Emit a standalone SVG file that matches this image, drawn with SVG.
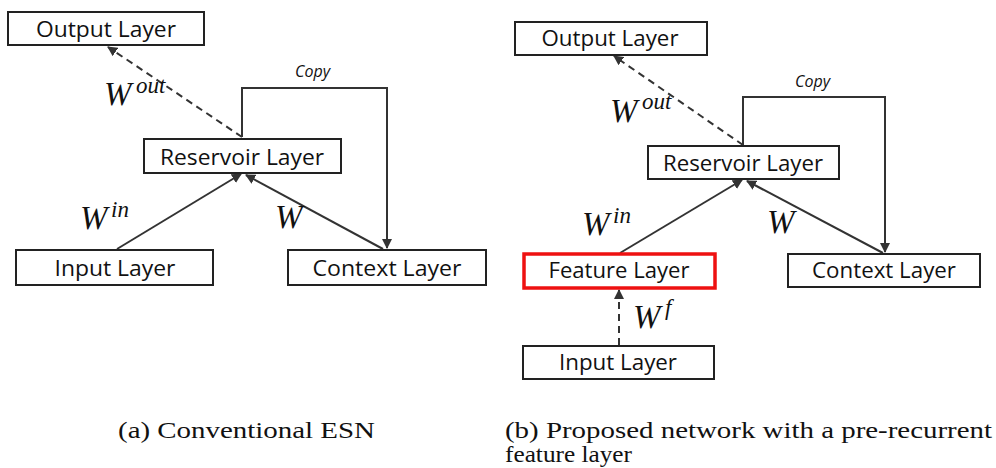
<svg xmlns="http://www.w3.org/2000/svg" width="996" height="468" viewBox="0 0 996 468">
  <style>
    .box { fill: #ffffff; stroke: #222222; stroke-width: 2; }
    .feat { fill: #ffffff; stroke: #ee1111; stroke-width: 3.5; }
    .lbl { font-family: "Open Sans", "Liberation Sans", sans-serif; font-size: 22px; fill: #111111; text-anchor: middle; }
    .edge { fill: none; stroke: #333333; stroke-width: 2; }
    .dash { stroke-dasharray: 7 5; }
    .w { font-family: "Liberation Serif", serif; font-style: italic; font-size: 33px; fill: #111111; }
    .sup { font-family: "Liberation Serif", serif; font-style: italic; font-size: 23px; fill: #111111; }
    .copy { font-family: "Open Sans", "Liberation Sans", sans-serif; font-style: italic; font-size: 16px; fill: #111111; }
    .cap { font-family: "Liberation Serif", serif; font-size: 24px; fill: #111111; }
  </style>
  <defs>
    <marker id="arr" viewBox="0 0 10 10" refX="9" refY="5" markerWidth="5" markerHeight="5" orient="auto" markerUnits="strokeWidth">
      <path d="M0,0 L10,5 L0,10 z" fill="#333333"/>
    </marker>
  </defs>
  <rect width="996" height="468" fill="#ffffff"/>

  <!-- (a) conventional ESN -->
  <g id="a-connectors">
    <path class="edge dash" d="M242,137 L108,47" marker-end="url(#arr)"/>
    <path class="edge" d="M242,137 L242,88 L387,88 L387,248" marker-end="url(#arr)"/>
    <path class="edge" d="M117,249 L241,174" marker-end="url(#arr)"/>
    <path class="edge" d="M383,249 L246,175" marker-end="url(#arr)"/>
  </g>
  <g id="a-output"><rect class="box" x="8" y="12" width="196" height="33"/><text class="lbl" x="106" y="37" textLength="140" lengthAdjust="spacingAndGlyphs">Output Layer</text></g>
  <g id="a-reservoir"><rect class="box" x="144" y="139" width="197" height="34"/><text class="lbl" x="242" y="165" textLength="164" lengthAdjust="spacingAndGlyphs">Reservoir Layer</text></g>
  <g id="a-input"><rect class="box" x="16" y="250" width="197" height="35"/><text class="lbl" x="115" y="276" textLength="121" lengthAdjust="spacingAndGlyphs">Input Layer</text></g>
  <g id="a-context"><rect class="box" x="288" y="250" width="198" height="35"/><text class="lbl" x="387" y="276" textLength="149" lengthAdjust="spacingAndGlyphs">Context Layer</text></g>
  <g id="a-labels">
    <text class="copy" x="295" y="77">Copy</text>
    <text class="w" x="104" y="105">W</text><text class="sup" x="136" y="93">out</text>
    <text class="w" x="80" y="229">W</text><text class="sup" x="111" y="217">in</text>
    <text class="w" x="275" y="228">W</text>
  </g>

  <!-- (b) proposed network -->
  <g id="b-connectors">
    <path class="edge dash" d="M743,145 L614,56" marker-end="url(#arr)"/>
    <path class="edge" d="M743,145 L743,97 L885,97 L885,252" marker-end="url(#arr)"/>
    <path class="edge" d="M620,253 L742,180" marker-end="url(#arr)"/>
    <path class="edge" d="M883,253 L747,181" marker-end="url(#arr)"/>
    <path class="edge dash" d="M619,345 L619,290" marker-end="url(#arr)"/>
  </g>
  <g id="b-output"><rect class="box" x="515" y="22" width="192" height="33"/><text class="lbl" x="610" y="46" textLength="137" lengthAdjust="spacingAndGlyphs">Output Layer</text></g>
  <g id="b-reservoir"><rect class="box" x="648" y="146" width="191" height="33"/><text class="lbl" x="743" y="171" textLength="160" lengthAdjust="spacingAndGlyphs">Reservoir Layer</text></g>
  <g id="b-feature"><rect class="feat" x="524" y="254" width="191" height="34"/><text class="lbl" x="619" y="278" textLength="141" lengthAdjust="spacingAndGlyphs">Feature Layer</text></g>
  <g id="b-context"><rect class="box" x="788" y="254" width="192" height="33"/><text class="lbl" x="884" y="278" textLength="144" lengthAdjust="spacingAndGlyphs">Context Layer</text></g>
  <g id="b-input"><rect class="box" x="523" y="346" width="191" height="33"/><text class="lbl" x="618" y="370" textLength="118" lengthAdjust="spacingAndGlyphs">Input Layer</text></g>
  <g id="b-labels">
    <text class="copy" x="795" y="87">Copy</text>
    <text class="w" x="610" y="122">W</text><text class="sup" x="642" y="109">out</text>
    <text class="w" x="582" y="235">W</text><text class="sup" x="613" y="223">in</text>
    <text class="w" x="767" y="233">W</text>
    <text class="w" x="633" y="328">W</text><text class="sup" x="665" y="315">f</text>
  </g>

  <!-- captions -->
  <g id="captions">
    <text class="cap" x="118" y="438" textLength="257" lengthAdjust="spacingAndGlyphs">(a) Conventional ESN</text>
    <text class="cap" x="505" y="438" textLength="487" lengthAdjust="spacingAndGlyphs">(b) Proposed network with a pre-recurrent</text>
    <text class="cap" x="505" y="462" textLength="127" lengthAdjust="spacingAndGlyphs">feature layer</text>
  </g>
</svg>
